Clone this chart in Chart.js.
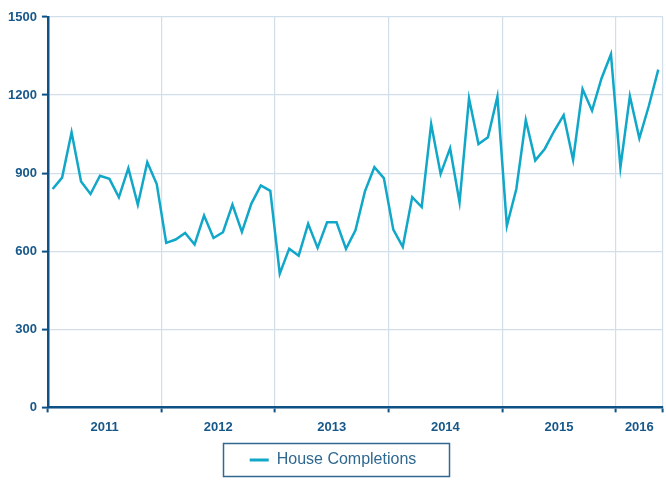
<!DOCTYPE html>
<html lang="en">
  <head>
    <meta charset="UTF-8" />
    <title>House Completions</title>
    <script src="https://cdn.jsdelivr.net/npm/chart.js"></script>
    <style>
      html, body { margin: 0; padding: 0; background: #fff; }
      #wrap { width: 666px; height: 482px; }
    </style>
  </head>
  <body>
    <div id="wrap"><canvas id="chart"></canvas></div>

    <script>
      // monthly categories, Jan 2011 - May 2016
      const months = [
        "2011-01", "2011-02", "2011-03", "2011-04", "2011-05", "2011-06",
        "2011-07", "2011-08", "2011-09", "2011-10", "2011-11", "2011-12",
        "2012-01", "2012-02", "2012-03", "2012-04", "2012-05", "2012-06",
        "2012-07", "2012-08", "2012-09", "2012-10", "2012-11", "2012-12",
        "2013-01", "2013-02", "2013-03", "2013-04", "2013-05", "2013-06",
        "2013-07", "2013-08", "2013-09", "2013-10", "2013-11", "2013-12",
        "2014-01", "2014-02", "2014-03", "2014-04", "2014-05", "2014-06",
        "2014-07", "2014-08", "2014-09", "2014-10", "2014-11", "2014-12",
        "2015-01", "2015-02", "2015-03", "2015-04", "2015-05", "2015-06",
        "2015-07", "2015-08", "2015-09", "2015-10", "2015-11", "2015-12",
        "2016-01", "2016-02", "2016-03", "2016-04", "2016-05"
      ];

      const completions = [
        839, 883, 1057, 868, 820, 890, 878, 807, 919, 779, 942, 858,
        632, 645, 670, 626, 737, 651, 673, 779, 674, 783, 853, 832,
        514, 610, 583, 705, 613, 711, 711, 609, 680, 830, 923, 881,
        683, 617, 808, 770, 1089, 897, 996, 788, 1187, 1012, 1038, 1194,
        698, 839, 1104, 949, 993, 1062, 1123, 951, 1223, 1140, 1264, 1357,
        922, 1196, 1034, 1158, 1298
      ];

      const years = ["2011", "2012", "2013", "2014", "2015", "2016"];

      const axisColor = "#0e5285";
      const labelColor = "#17588a";
      const gridColor = "#d2deea";
      const lineColor = "#10a7c8";
      const legendColor = "#2f6890";
      const font = "'Liberation Sans', Arial, sans-serif";

      // centre of each year's run of months, used to place the year labels
      const yearCentres = years.map((y) => {
        const first = months.findIndex((m) => m.startsWith(y));
        const count = months.filter((m) => m.startsWith(y)).length;
        return first + count / 2;
      });

      const isYearStart = (ctx) =>
        ctx.index === undefined || months[ctx.index].endsWith("-01");

      const legendBox = {
        id: "legendBox",
        afterDraw(chart) {
          const h = chart.legend.legendHitBoxes[0];
          if (!h) return;
          const ctx = chart.ctx;
          const cy = h.top + h.height / 2;
          ctx.save();
          ctx.strokeStyle = legendColor;
          ctx.lineWidth = 1.5;
          ctx.strokeRect(Math.round(h.left - 27) + 0.5, Math.round(cy - 17) + 0.5, Math.round(h.width + 59), 33);
          ctx.restore();
        },
      };

      new Chart(document.getElementById("chart"), {
        type: "line",
        data: {
          labels: months,
          datasets: [
            {
              label: "House Completions",
              data: completions,
              borderColor: lineColor,
              backgroundColor: lineColor,
              borderWidth: 2.5,
              pointRadius: 0,
              tension: 0,
            },
          ],
        },
        options: {
          responsive: true,
          maintainAspectRatio: false,
          animation: false,
          layout: { padding: { left: 3, right: 3, top: 17, bottom: 4 } },
          plugins: {
            tooltip: { enabled: false },
            legend: {
              position: "bottom",
              labels: {
                boxWidth: 19,
                boxHeight: 3,
                padding: 10,
                color: legendColor,
                font: { family: font, size: 16 },
                generateLabels: (chart) =>
                  Chart.defaults.plugins.legend.labels
                    .generateLabels(chart)
                    .map((l) => ({ ...l, lineWidth: 0 })),
              },
            },
          },
          scales: {
            x: {
              type: "category",
              offset: true,
              border: { color: axisColor, width: 2.5 },
              grid: {
                offset: true,
                color: (ctx) => (isYearStart(ctx) ? gridColor : "transparent"),
                tickColor: (ctx) => (isYearStart(ctx) ? axisColor : "transparent"),
                lineWidth: 1.2,
                tickWidth: 2,
                tickLength: 5,
              },
              ticks: { display: false },
            },
            years: {
              type: "linear",
              position: "bottom",
              min: 0,
              max: months.length,
              border: { display: false },
              grid: { display: false, drawTicks: false },
              afterBuildTicks: (axis) => {
                axis.ticks = yearCentres.map((v) => ({ value: v }));
              },
              ticks: {
                autoSkip: false,
                maxRotation: 0,
                padding: 7,
                color: labelColor,
                font: { family: font, size: 13, weight: "bold" },
                callback: (v, i) => years[i],
              },
            },
            y: {
              min: 0,
              max: 1500,
              border: { color: axisColor, width: 2.5 },
              grid: {
                color: gridColor,
                tickColor: axisColor,
                lineWidth: 1.2,
                tickWidth: 2,
                tickLength: 6,
              },
              ticks: {
                stepSize: 300,
                padding: 5,
                color: labelColor,
                font: { family: font, size: 13, weight: "bold" },
                callback: (v) => String(v),
              },
            },
          },
        },
        plugins: [legendBox],
      });
    </script>
  </body>
</html>
